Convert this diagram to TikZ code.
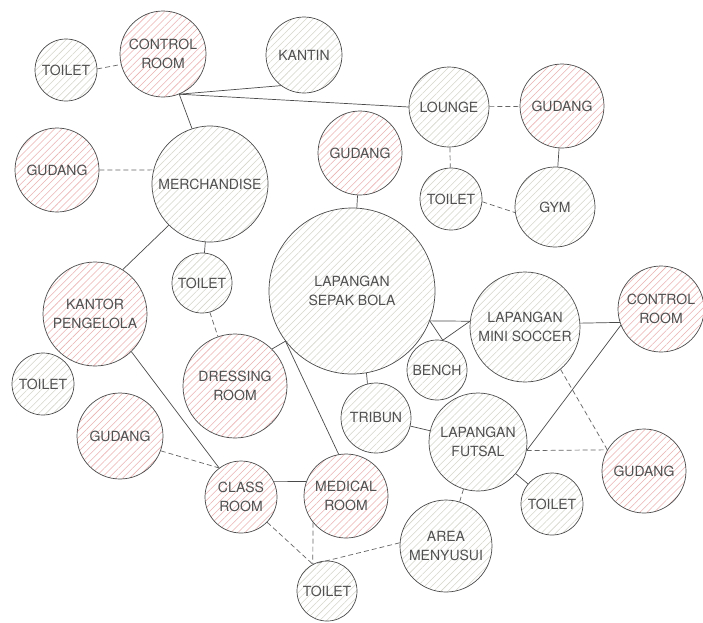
\documentclass[tikz,border=0pt]{standalone}
\usepackage{fontspec}
\setmainfont{TeX Gyre Heros}
\usetikzlibrary{patterns.meta}
\definecolor{edge}{HTML}{4A4A4A}
\definecolor{hatchg}{HTML}{D6D6CC}
\definecolor{hatchr}{HTML}{EBB2B2}
\definecolor{txt}{HTML}{505050}
\tikzset{
 room/.style={circle, draw=edge, line width=0.7pt, inner sep=0pt, align=center, text=txt, font=\fontsize{14}{19}\selectfont},
 grayroom/.style={room, pattern={Lines[angle=45,distance=5pt,line width=0.55pt]}, pattern color=hatchg},
 redroom/.style={room, pattern={Lines[angle=45,distance=5pt,line width=0.55pt]}, pattern color=hatchr},
 link/.style={draw=edge, line width=0.7pt},
 dlink/.style={draw=edge!85, line width=0.7pt, dash pattern=on 5pt off 3pt},
}
\begin{document}
\begin{tikzpicture}[x=1pt,y=-1pt]
\fill[white] (0,0) rectangle (703,622);
\useasboundingbox (0,0) rectangle (703,622);
\node[grayroom, minimum size=62pt] (t1) at (66,70) {TOILET};
\node[redroom, minimum size=86pt] (ctrl1) at (163,54) {CONTROL\\ROOM};
\node[grayroom, minimum size=76pt] (kantin) at (304,55) {KANTIN};
\node[redroom, minimum size=84pt] (gud1) at (57,170) {GUDANG};
\node[grayroom, minimum size=116pt] (merch) at (210,184) {MERCHANDISE};
\node[redroom, minimum size=84pt] (gud2) at (360,153) {GUDANG};
\node[grayroom, minimum size=80pt] (lounge) at (449,107) {LOUNGE};
\node[redroom, minimum size=84pt] (gud3) at (562,106) {GUDANG};
\node[grayroom, minimum size=62pt] (t2) at (451,199) {TOILET};
\node[grayroom, minimum size=80pt] (gym) at (555,207) {GYM};
\node[grayroom, minimum size=166pt] (bola) at (352,291) {LAPANGAN\\SEPAK BOLA};
\node[grayroom, minimum size=60pt] (t3) at (202,283) {TOILET};
\node[redroom, minimum size=104pt] (kantor) at (95,314) {KANTOR\\PENGELOLA};
\node[grayroom, minimum size=62pt] (t4) at (43,384) {TOILET};
\node[redroom, minimum size=104pt] (dress) at (235,386) {DRESSING\\ROOM};
\node[redroom, minimum size=86pt] (gud4) at (120,436) {GUDANG};
\node[grayroom, minimum size=110pt] (mini) at (525,327) {LAPANGAN\\MINI SOCCER};
\node[redroom, minimum size=86pt] (ctrl2) at (661,309) {CONTROL\\ROOM};
\node[grayroom, minimum size=60pt] (bench) at (437,370) {BENCH};
\node[grayroom, minimum size=70pt] (tribun) at (376,418) {TRIBUN};
\node[grayroom, minimum size=98pt] (futsal) at (478,442) {LAPANGAN\\FUTSAL};
\node[grayroom, minimum size=62pt] (t5) at (552,504) {TOILET};
\node[redroom, minimum size=84pt] (gud5) at (644,471) {GUDANG};
\node[redroom, minimum size=72pt] (class) at (241,497) {CLASS\\ROOM};
\node[redroom, minimum size=84pt] (medical) at (346,496) {MEDICAL\\ROOM};
\node[grayroom, minimum size=92pt] (area) at (446,546) {AREA\\MENYUSUI};
\node[grayroom, minimum size=60pt] (t6) at (327,591) {TOILET};
\draw[link] (ctrl1.-68) -- (kantin.-127);
\draw[link] (ctrl1.-68) -- (lounge.180);
\draw[link] (ctrl1.-68) -- (merch.108);
\draw[dlink] (t1.2) -- (ctrl1.-166);
\draw[dlink] (gud1.0) -- (merch.166);
\draw[dlink] (lounge) -- (gud3);
\draw[dlink] (lounge) -- (t2);
\draw[dlink] (t2.-5) -- (gym.-172);
\draw[link] (gud3) -- (gym);
\draw[link] (gud2) -- (bola);
\draw[link] (merch) -- (t3);
\draw[link] (merch.-135) -- (kantor.58);
\draw[link] (kantor.-46) -- (class.127);
\draw[dlink] (t3.-75) -- (dress.109);
\draw[dlink] (gud4.-20) -- (class.127);
\draw[link] (dress.45) -- (bola.-143);
\draw[link] (bola.-143) -- (medical.100);
\draw[link] (class.25) -- (medical.160);
\draw[link] (bola.-80) -- (tribun.104);
\draw[link] (bola.-21) -- (mini.174);
\draw[link] (bola.-21) -- (bench.79);
\draw[link] (bench.79) -- (mini.174);
\draw[link] (mini.4) -- (ctrl2.-162);
\draw[link] (ctrl2.-158) -- (futsal.-10);
\draw[link] (tribun) -- (futsal);
\draw[link] (futsal) -- (t5);
\draw[dlink] (mini.-50) -- (gud5.150);
\draw[dlink] (futsal.-10) -- (gud5.150);
\draw[dlink] (futsal) -- (area);
\draw[dlink] (class.-44) -- (t6.118);
\draw[dlink] (medical.-141) -- (t6.118);
\draw[dlink] (area.176) -- (t6.118);
\end{tikzpicture}
\end{document}
